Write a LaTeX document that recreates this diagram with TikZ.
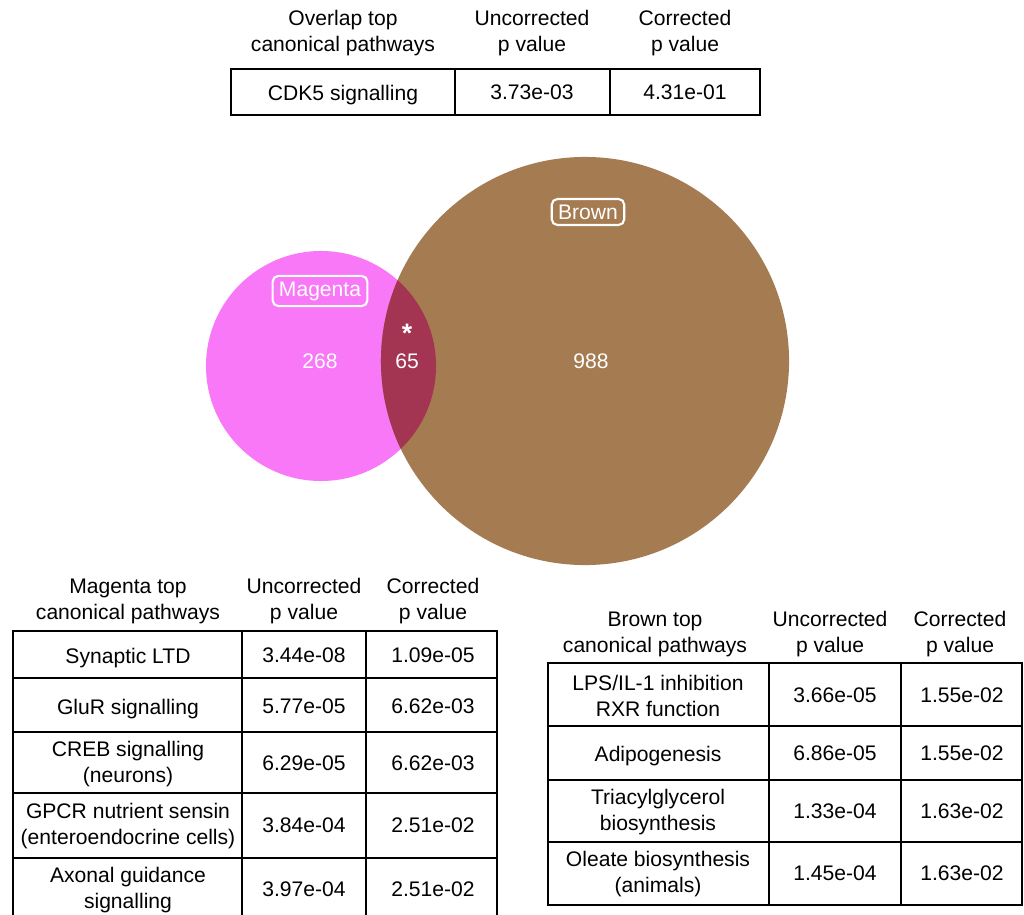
\documentclass[tikz,border=0pt]{standalone}
\usepackage{fontspec}
\setmainfont{Liberation Sans}
\usetikzlibrary{positioning}

\definecolor{magentafill}{RGB}{248,120,248}
\definecolor{brownfill}{RGB}{165,123,81}
\definecolor{overlapfill}{RGB}{163,52,82}

\begin{document}
\begin{tikzpicture}[x=0.025cm, y=-0.025cm,
    txt/.style={font=\fontsize{15}{18.5}\selectfont, align=center, inner sep=0pt},
    tbl/.style={line width=1.7pt, line join=miter},
    venntxt/.style={txt, text=white},
    setlabel/.style={venntxt, draw=white, line width=1.5pt, rounded corners=4pt,
      inner xsep=4.5pt, inner ysep=4pt}]
  \useasboundingbox (0,0) rectangle (1024,914);

  % overlap table
  \node[txt] (ovhead) at (343,33) {Overlap top\\canonical pathways};
  \node[txt] (ovunc) at (532,33) {Uncorrected\\p value};
  \node[txt] (ovcor) at (685,33) {Corrected\\p value};
  \draw[tbl] (231,69) rectangle (760,115);
  \draw[tbl] (455,69) -- (455,115) (610,69) -- (610,115);
  \node[txt] (ovname) at (343,95) {CDK5 signalling};
  \node[txt] (ovp) at (532,92) {3.73e-03};
  \node[txt] (ovq) at (685,92) {4.31e-01};

  % venn
  \fill[magentafill] (321,366) circle [radius=2.875cm];
  \fill[brownfill] (585,361) circle [radius=5.1cm];
  \begin{scope}
    \clip (321,366) circle [radius=2.875cm];
    \fill[overlapfill] (585,361) circle [radius=5.1cm];
  \end{scope}
  \node[setlabel] (maglabel) at (320,291) {Magenta};
  \node[setlabel] (brownlabel) at (588,212) {Brown};
  \node[venntxt] (magonly) at (320,361) {268};
  \node[venntxt] (both) at (407,361) {65};
  \node[venntxt, font=\fontsize{19}{20}\selectfont\bfseries] (star) at (407,333) {*};
  \node[venntxt] (brownonly) at (591,361) {988};

  % magenta table
  \node[txt] (maghead) at (128,601) {Magenta top\\canonical pathways};
  \node[txt] (magunc) at (304,601) {Uncorrected\\p value};
  \node[txt] (magcor) at (433,601) {Corrected\\p value};
  \draw[tbl] (13,920) -- (13,631) -- (497,631) -- (497,920);
  \draw[tbl] (242,631) -- (242,920) (366,631) -- (366,920);
  \foreach \y in {678,732,793,858}
    \draw[tbl] (13,\y) -- (497,\y);
  \foreach \y/\dy/\name/\unc/\cor [count=\i] in
      {655/3/{Synaptic LTD}/3.44e-08/1.09e-05,
       706/3/{GluR signalling}/5.77e-05/6.62e-03,
       763/1/{CREB signalling\\(neurons)}/6.29e-05/6.62e-03,
       825/1/{GPCR nutrient sensin\\(enteroendocrine cells)}/3.84e-04/2.51e-02,
       889/1/{Axonal guidance\\signalling}/3.97e-04/2.51e-02}
  {
    \node[txt] (magname\i) at (128,\y+\dy) {\name};
    \node[txt] (magp\i) at (304,\y) {\unc};
    \node[txt] (magq\i) at (433,\y) {\cor};
  }

  % brown table
  \node[txt] (brhead) at (655,634) {Brown top\\canonical pathways};
  \node[txt] (brunc) at (830,634) {Uncorrected\\p value};
  \node[txt] (brcor) at (960,634) {Corrected\\p value};
  \draw[tbl] (548,663) rectangle (1022,905);
  \draw[tbl] (769,663) -- (769,905) (901,663) -- (901,905);
  \foreach \y in {726,780,842}
    \draw[tbl] (548,\y) -- (1022,\y);
  \foreach \y/\dy/\name/\unc/\cor [count=\i] in
      {695/1/{LPS/IL-1 inhibition\\RXR function}/3.66e-05/1.55e-02,
       753/3/{Adipogenesis}/6.86e-05/1.55e-02,
       811/1/{Triacylglycerol\\biosynthesis}/1.33e-04/1.63e-02,
       873/1/{Oleate biosynthesis\\(animals)}/1.45e-04/1.63e-02}
  {
    \node[txt] (brname\i) at (658,\y+\dy) {\name};
    \node[txt] (brp\i) at (835,\y) {\unc};
    \node[txt] (brq\i) at (962,\y) {\cor};
  }
\end{tikzpicture}
\end{document}
